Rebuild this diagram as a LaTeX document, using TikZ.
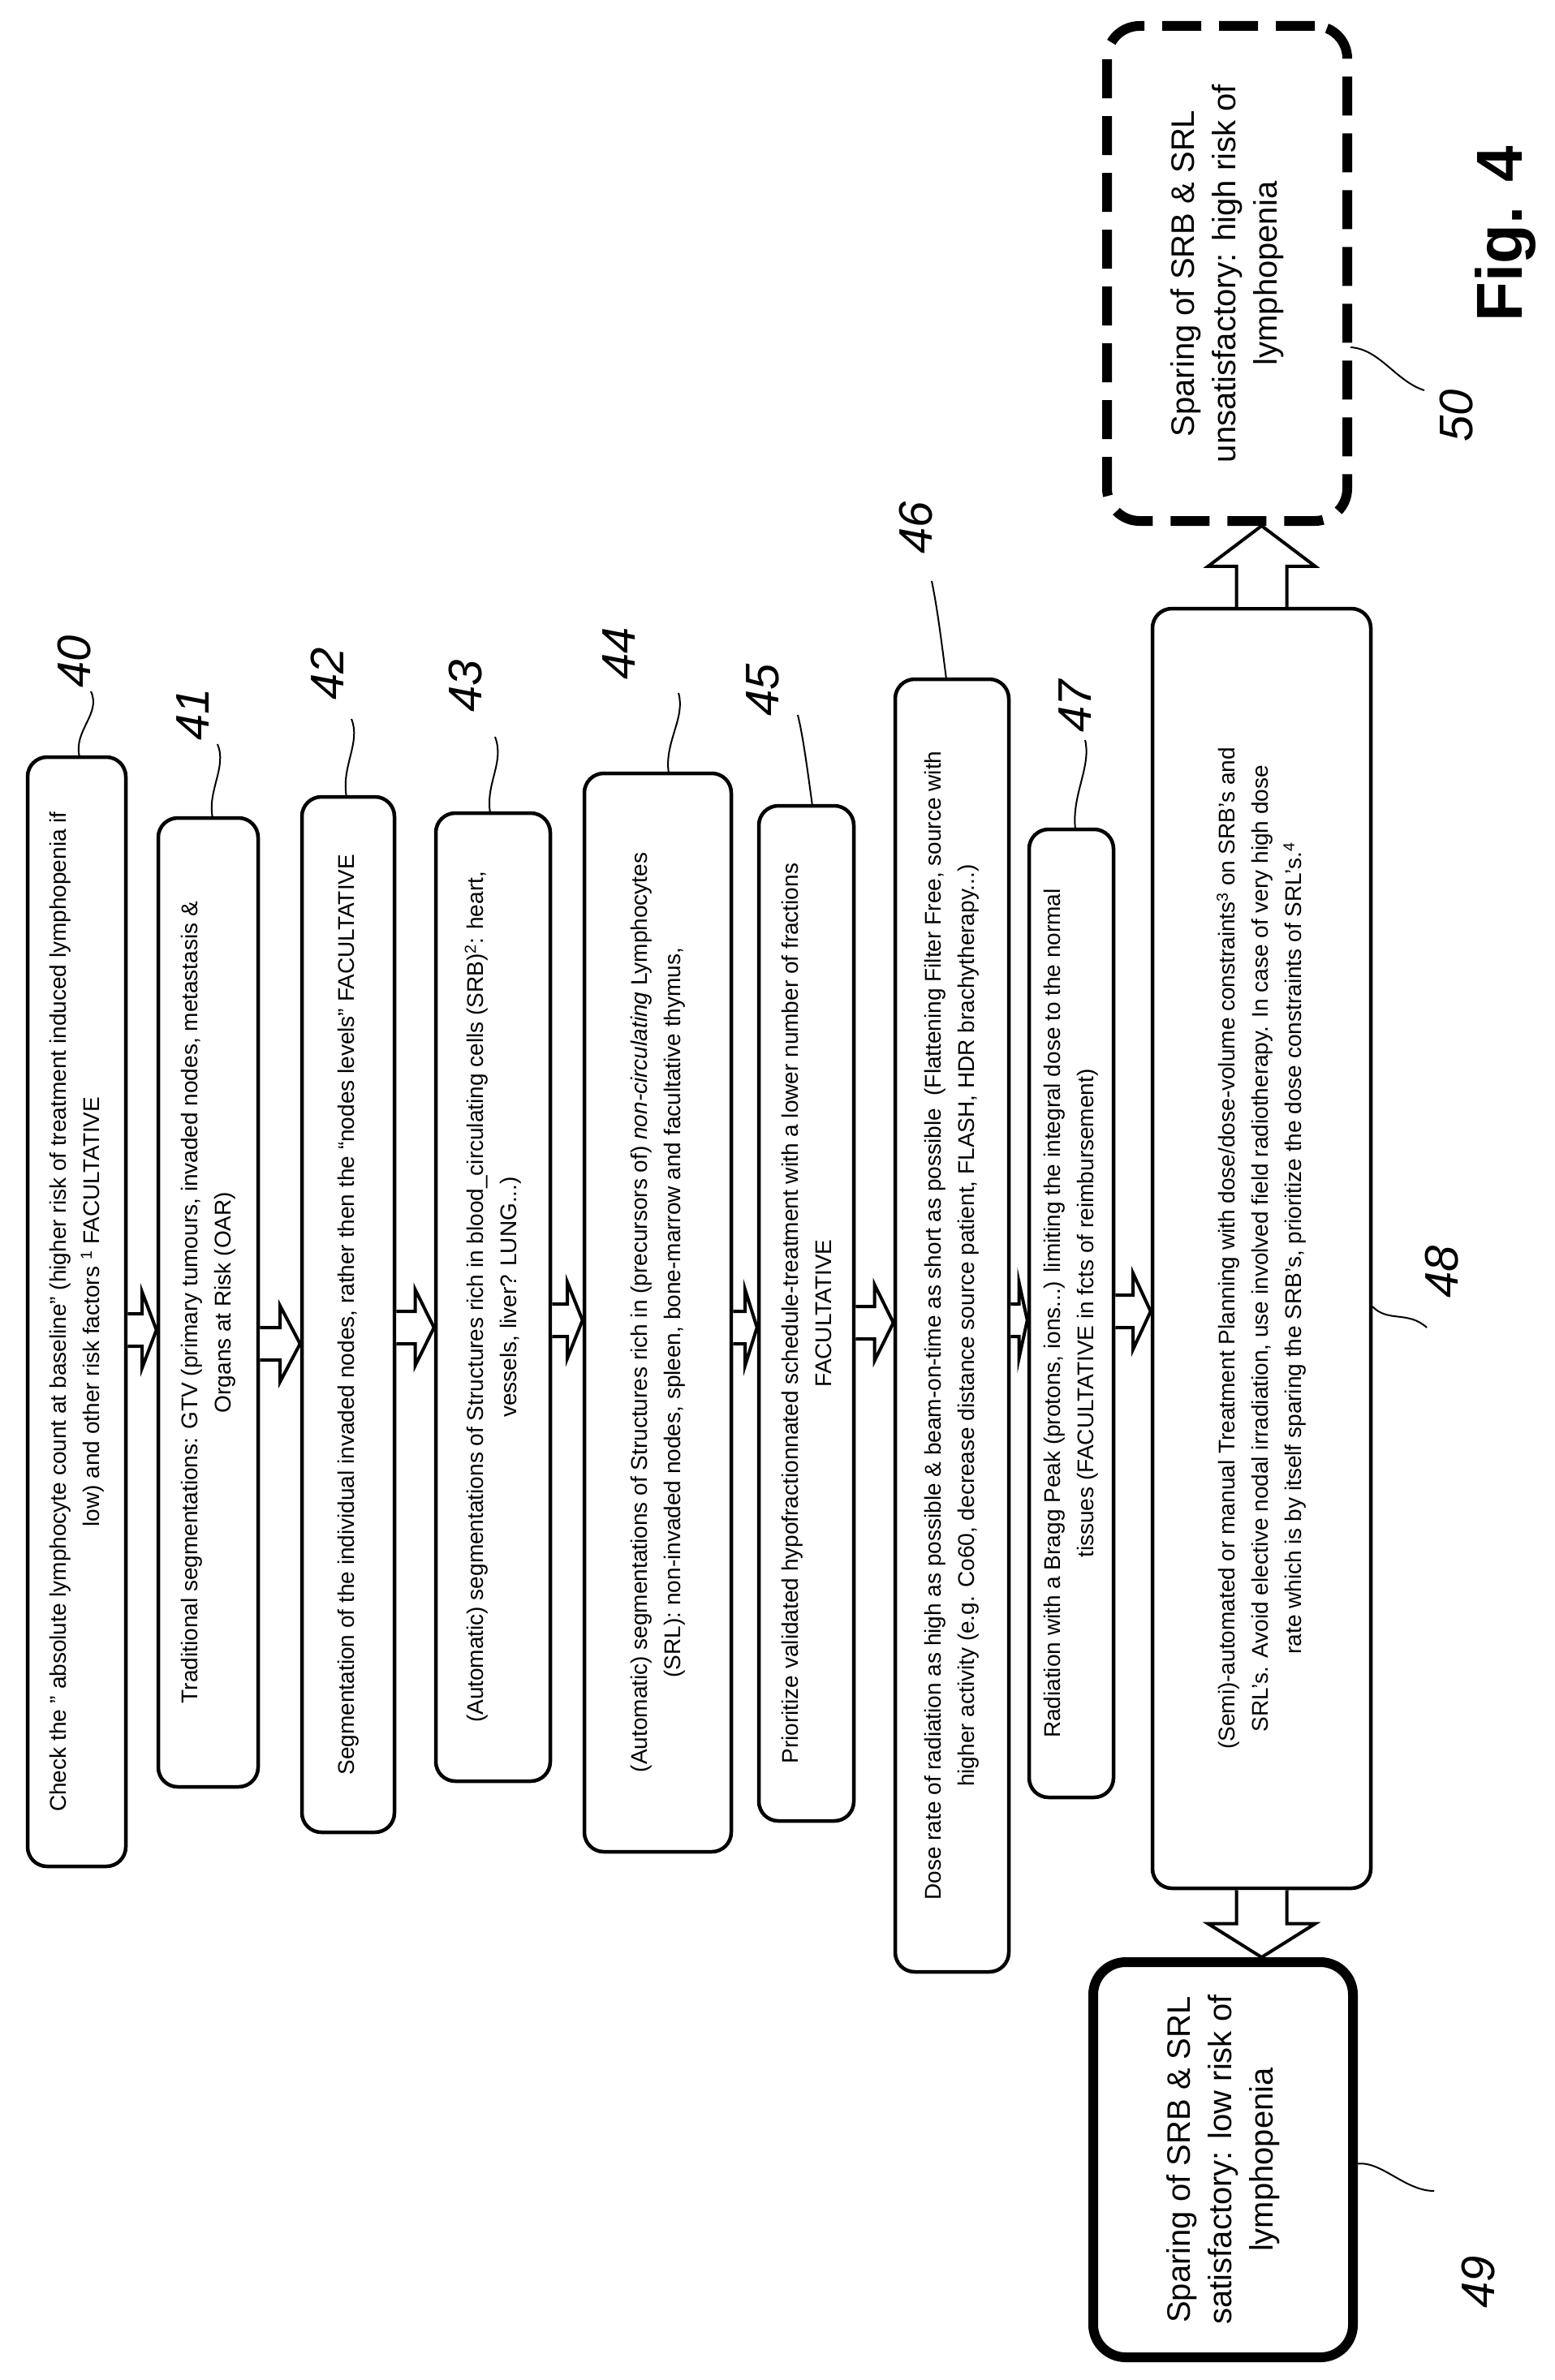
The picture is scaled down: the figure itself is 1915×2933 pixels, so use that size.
\documentclass[tikz,border=0pt]{standalone}
\usepackage{fontspec}
\setmainfont{Liberation Sans}
\usetikzlibrary{calc}
\begin{document}
\begin{tikzpicture}[x=1pt,y=-1pt,
  box/.style={draw=black,line width=4.5pt,rounded corners=24pt,inner sep=0pt,fill=white},
  txt/.style={rotate=90,align=center,font=\fontsize{28}{41}\selectfont,inner sep=0pt},
  big/.style={rotate=90,align=center,font=\fontsize{40}{51}\selectfont,inner sep=0pt},
  blk/.style={draw=black,line width=4pt,fill=white,line join=miter},
  ref/.style={rotate=90,font=\fontsize{58}{58}\selectfont\itshape,inner sep=0pt},
  lead/.style={draw=black,line width=2pt}]
\useasboundingbox (0,0) rectangle (1915,2933);
\newcommand\bx[5]{\node[box,minimum width=#4,minimum height=#5] (#1) at (#2,#3) {};}
\bx{b40}{94.5}{1616.5}{121}{1367}
\bx{b41}{256.5}{1605}{123}{1194}
\bx{b42}{429}{1620}{114}{1276}
\bx{b43}{607.5}{1598.5}{141}{1193}
\bx{b44}{810.5}{1617.5}{181}{1329}
\bx{b45}{993.5}{1618.5}{117}{1251}
\bx{b46}{1173}{1633.5}{140}{1593}
\bx{b47}{1320}{1618.5}{104}{1193}
\bx{b48}{1554.5}{1538.5}{269}{1577}
\node[box,line width=12pt,rounded corners=40pt,minimum width=320,minimum height=487] (b49) at (1507,2661.5) {};
\node[box,line width=12pt,rounded corners=40pt,dash pattern=on 48pt off 22pt,minimum width=296,minimum height=610] (b50) at (1512,337) {};
\node[txt] (t40) at (b40.center) {Check the ''\ absolute lymphocyte count at baseline'' (higher risk of treatment induced lymphopenia if\\ low) and other risk factors \textsuperscript{1} FACULTATIVE};
\node[txt] (t41) at (b41.center) {Traditional segmentations: GTV (primary tumours, invaded nodes, metastasis \&\\ Organs at Risk (OAR)};
\node[txt] (t42) at (b42.center) {Segmentation of the individual invaded nodes, rather then the ``nodes levels'' FACULTATIVE};
\node[txt] (t43) at (b43.center) {(Automatic) segmentations of Structures rich in blood\_circulating cells (SRB)\textsuperscript{2}: heart,\\ vessels, liver? LUNG...)};
\node[txt] (t44) at (b44.center) {(Automatic) segmentations of Structures rich in (precursors of) \textit{non-circulating} Lymphocytes\\ (SRL): non-invaded nodes, spleen, bone-marrow and facultative thymus,};
\node[txt] (t45) at (b45.center) {Prioritize validated hypofractionnated schedule-treatment with a lower number of fractions\\ FACULTATIVE};
\node[txt] (t46) at (b46.center) {Dose rate of radiation as high as possible \& beam-on-time as short as possible\ \ (Flattening Filter Free, source with\\ higher activity (e.g. Co60, decrease distance source patient, FLASH, HDR brachytherapy...)};
\node[txt] (t47) at (b47.center) {Radiation with a Bragg Peak (protons, ions...) limiting the integral dose to the normal\\ tissues (FACULTATIVE in fcts of reimbursement)};
\node[txt] (t48) at (b48.center) {(Semi)-automated or manual Treatment Planning with dose/dose-volume constraints\textsuperscript{3} on SRB's and\\ SRL's. Avoid elective nodal irradiation, use involved field radiotherapy. In case of very high dose\\ rate which is by itself sparing the SRB's, prioritize the dose constraints of SRL's.\textsuperscript{4}};
\node[big] (t49) at (b49.center) {Sparing of SRB \& SRL\\ satisfactory: low risk of\\ lymphopenia};
\node[big] (t50) at (b50.center) {Sparing of SRB \& SRL\\ unsatisfactory: high risk of\\ lymphopenia};
% horizontal block arrows
\newcommand\harr[3]{\path[blk] let \p1=(#1.east), \p2=(#2.west), \n1={(\x1+\x2)/2} in
  (\x1,#3-20) -- (\n1,#3-20) -- (\n1,#3-47) -- (\x2,#3) -- (\n1,#3+47) -- (\n1,#3+20) -- (\x1,#3+20);}
\harr{b40}{b41}{1639}
\harr{b41}{b42}{1656}
\harr{b42}{b43}{1636}
\harr{b43}{b44}{1627}
\harr{b44}{b45}{1636}
\harr{b45}{b46}{1630}
\harr{b46}{b47}{1627}
\harr{b47}{b48}{1616}
% vertical block arrows
\newcommand\varr[2]{\path[blk] let \p1=(#1), \p2=(#2), \n1={(\y1+\y2)/2} in
  ({\x1-31pt},{\y1}) -- ({\x1-31pt},{\n1*1pt}) -- ({\x1-66pt},{\n1*1pt}) -- ({\x1},{\y2})
  -- ({\x1+66pt},{\n1*1pt}) -- ({\x1+31pt},{\n1*1pt}) -- ({\x1+31pt},{\y1});}
\varr{b48.south}{b49.north -| b48.south}
\varr{b48.north}{b50.south -| b48.north}
% reference labels
\node[ref] (r40) at (92,815) {40};
\node[ref] (r41) at (238,880) {41};
\node[ref] (r42) at (403,830) {42};
\node[ref] (r43) at (574,845) {43};
\node[ref] (r44) at (763,805) {44};
\node[ref] (r45) at (940,850) {45};
\node[ref] (r46) at (1129,650) {46};
\node[ref] (r47) at (1325,870) {47};
\node[ref] (r48) at (1777,1567) {48};
\node[ref] (r49) at (1822,2812) {49};
\node[ref] (r50) at (1795,512) {50};
\node[rotate=90,font=\fontsize{80}{80}\selectfont\bfseries,inner sep=0pt] (fig) at (1855,288) {Fig. 4};
% leaders
\draw[lead] (98,933) .. controls (90,900) and (125,880) .. (112,852);
\draw[lead] (262,1008) .. controls (255,975) and (280,945) .. (268,917);
\draw[lead] (427,982) .. controls (420,945) and (445,915) .. (433,886);
\draw[lead] (604,1002) .. controls (598,965) and (622,940) .. (610,908);
\draw[lead] (824,953) .. controls (818,915) and (845,885) .. (836,854);
\draw[lead] (1001,993) .. controls (995,950) and (990,910) .. (983,881);
\draw[lead] (1166,837) .. controls (1160,790) and (1155,750) .. (1148,716);
\draw[lead] (1325,1022) .. controls (1320,980) and (1345,945) .. (1337,912);
\draw[lead] (1691,1610) .. controls (1710,1630) and (1735,1615) .. (1758,1636);
\draw[lead] (1669,2667) .. controls (1700,2660) and (1730,2700) .. (1767,2700);
\draw[lead] (1664,428) .. controls (1700,430) and (1720,470) .. (1755,481);
\end{tikzpicture}
\end{document}
